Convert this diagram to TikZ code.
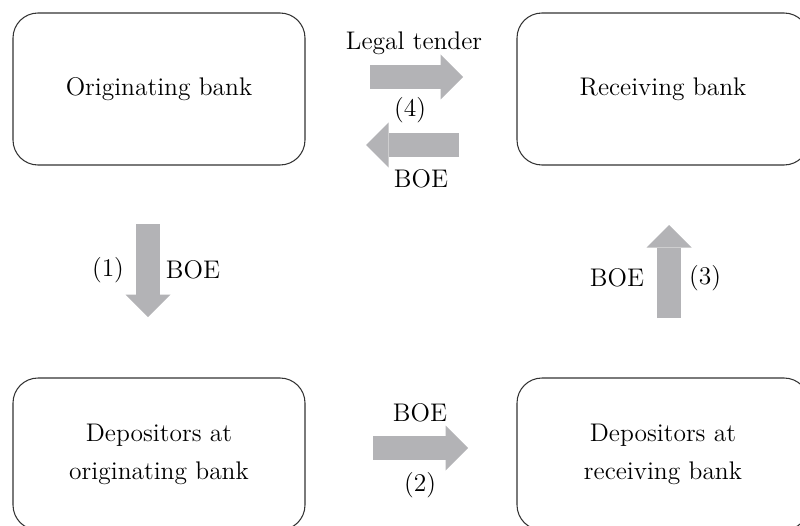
\documentclass[tikz,border=0pt]{standalone}
\usepackage{tikz}
\usetikzlibrary{arrows.meta}
\usetikzlibrary{positioning}
\usepackage{xcolor}
\definecolor{flowgray}{RGB}{179,179,182}
\tikzset{box/.style={rectangle, rounded corners=0.5cm, minimum width=5.84cm, minimum height=3.04cm, text centered, draw=black!80, line width=0.6pt},flow/.style={-{Triangle[length=0.45cm,width=0.9cm,line width=0pt]},line width=0.48cm,draw=flowgray}}
\tikzstyle{tag}=[inner sep=1pt]

\begin{document}
\begin{tikzpicture}[align=center,font=\fontsize{14.5}{21.6}\selectfont]
\useasboundingbox (0,0) rectangle (16,10.5);

\node (ob) at (3.18,8.72)[box]{Originating bank};
\node (rb) at (13.26,8.72)[box]{Receiving bank};
\node (dob) at (3.18,1.42)[box]{Depositors at\\originating bank};
\node (drb) at (13.26,1.42)[box]{Depositors at\\receiving bank};

% (4) legal tender and BOE between the banks
\coordinate (lt1) at (7.40,8.96);
\coordinate (lt2) at (9.26,8.96);
\draw[flow] (lt1) -- (lt2);
\coordinate (bk1) at (9.18,7.60);
\coordinate (bk2) at (7.32,7.60);
\draw[flow] (bk1) -- (bk2);
\node[tag] (ltlbl) at (8.28,9.64) {Legal tender};
\node[tag] (n4) at (8.20,8.30) {(4)};
\node[tag] (bklbl) at (8.42,6.92) {BOE};

% (1) bank to its depositors
\coordinate (d1) at (2.96,6.02);
\coordinate (d2) at (2.96,4.16);
\draw[flow] (d1) -- (d2);
\node[tag] (n1) at (2.16,5.10) {(1)};
\node[tag] (dlbl) at (3.86,5.10) {BOE};

% (2) between depositors
\coordinate (p1) at (7.46,1.54);
\coordinate (p2) at (9.36,1.54);
\draw[flow] (p1) -- (p2);
\node[tag] (plbl) at (8.40,2.24) {BOE};
\node[tag] (n2) at (8.40,0.80) {(2)};

% (3) depositors to receiving bank
\coordinate (u1) at (13.38,4.14);
\coordinate (u2) at (13.38,6.00);
\draw[flow] (u1) -- (u2);
\node[tag] (ulbl) at (12.34,4.94) {BOE};
\node[tag] (n3) at (14.10,4.94) {(3)};
\end{tikzpicture}
\end{document}
